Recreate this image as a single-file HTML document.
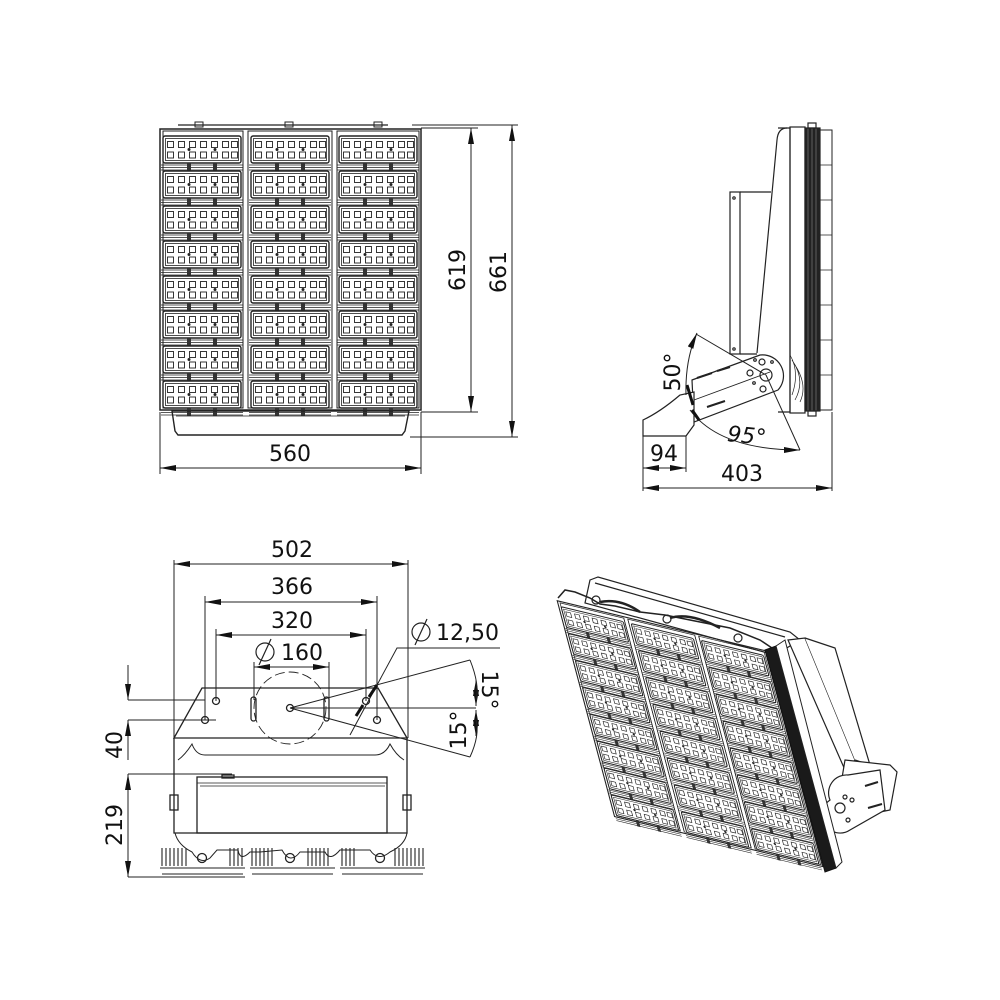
<!DOCTYPE html>
<html><head><meta charset="utf-8"><style>
html,body{margin:0;padding:0;background:#fff}
svg{display:block}
text{font-family:"DejaVu Sans","Liberation Sans",sans-serif;fill:#111;font-size:22px}
</style></head><body>
<svg width="1000" height="1000" viewBox="0 0 1000 1000" xmlns="http://www.w3.org/2000/svg">
<defs>
<marker id="ar" viewBox="0 0 16 6" refX="16" refY="3" markerWidth="16" markerHeight="6" orient="auto-start-reverse" markerUnits="userSpaceOnUse"><path d="M0,0L16,3L0,6z" fill="#111"/></marker>
<g id="mod" fill="none" stroke="#222">
<rect x="0" y="0" width="78" height="27" rx="2" stroke-width="1.4"/>
<rect x="2.5" y="2.5" width="73" height="22" stroke-width="0.8"/>
<g stroke-width="0.9">
<rect x="4.5" y="5.5" width="6" height="6"/><rect x="15.5" y="5.5" width="6" height="6"/><rect x="26.5" y="5.5" width="6" height="6"/><rect x="37.5" y="5.5" width="6" height="6"/><rect x="48.5" y="5.5" width="6" height="6"/><rect x="59.5" y="5.5" width="6" height="6"/><rect x="68.5" y="5.5" width="6" height="6"/>
<rect x="4.5" y="16" width="6" height="6"/><rect x="15.5" y="16" width="6" height="6"/><rect x="26.5" y="16" width="6" height="6"/><rect x="37.5" y="16" width="6" height="6"/><rect x="48.5" y="16" width="6" height="6"/><rect x="59.5" y="16" width="6" height="6"/><rect x="68.5" y="16" width="6" height="6"/>
</g>
<circle cx="26" cy="13.5" r="1" fill="#222"/><circle cx="52" cy="13.5" r="1" fill="#222"/>
<path d="M-2,29H80M-2,31.5H80M-2,34H80" stroke-width="0.8"/>
<rect x="24" y="27" width="4" height="8" fill="#333" stroke="none"/><rect x="50" y="27" width="4" height="8" fill="#333" stroke="none"/>
</g>
<g id="col">
<use href="#mod" y="0"/><use href="#mod" y="35"/><use href="#mod" y="70"/><use href="#mod" y="105"/>
<use href="#mod" y="140"/><use href="#mod" y="175"/><use href="#mod" y="210"/><use href="#mod" y="245"/>
</g>
<g id="front">
<rect x="160" y="129" width="261" height="281" fill="none" stroke="#222" stroke-width="1.5"/>
<rect x="163" y="131" width="80" height="277" fill="none" stroke="#222" stroke-width="1"/>
<rect x="248" y="131" width="84" height="277" fill="none" stroke="#222" stroke-width="1"/>
<rect x="337" y="131" width="82" height="277" fill="none" stroke="#222" stroke-width="1"/>
<path d="M243,131V408M248,131V408M332,131V408M337,131V408" stroke="#222" stroke-width="1"/>
<use href="#col" x="163" y="136"/><use href="#col" x="251" y="136"/><use href="#col" x="339" y="136"/>
</g>
</defs>

<!-- FRONT VIEW -->
<use href="#front"/>
<path d="M178,125h210" stroke="#222" stroke-width="1.2"/>
<rect x="195" y="122" width="8" height="5" fill="none" stroke="#222"/><rect x="285" y="122" width="8" height="5" fill="none" stroke="#222"/><rect x="374" y="122" width="8" height="5" fill="none" stroke="#222"/>
<path d="M172,411H409L405,431L402,435H178L175,431Z" fill="none" stroke="#222" stroke-width="1.4"/>
<path d="M176,416H405" stroke="#222" stroke-width="0.8"/>
<g stroke="#222" stroke-width="1" fill="none">
<path d="M160,412V474M421,412V474"/>
<path d="M160,468H421" marker-start="url(#ar)" marker-end="url(#ar)"/>
<path d="M421,128H478M421,412H478M412,125H518M410,437H518"/>
<path d="M471,128V412" marker-start="url(#ar)" marker-end="url(#ar)"/>
<path d="M512,125V437" marker-start="url(#ar)" marker-end="url(#ar)"/>
</g>
<text x="290" y="461" text-anchor="middle">560</text>
<text transform="translate(465,270) rotate(-90)" text-anchor="middle">619</text>
<text transform="translate(506,272) rotate(-90)" text-anchor="middle">661</text>

<!-- SIDE VIEW -->
<g stroke="#222" fill="none" stroke-width="1.2">
<path d="M778,128H790V412H778"/>
<rect x="790" y="127" width="15" height="286"/>
<rect x="805" y="128" width="15" height="283" fill="#222"/>
<path d="M808,128V411M812,128V411M816,128V411" stroke="#777" stroke-width="0.7"/>
<path d="M820,130H832V410H820" stroke-width="1"/>
<path d="M820,165H832M820,200H832M820,235H832M820,270H832M820,305H832M820,340H832M820,375H832" stroke-width="0.7"/>
<rect x="808" y="123" width="8" height="5"/><rect x="808" y="411" width="8" height="5"/>
<path d="M787,128Q778,128 777,140L757,353"/>
<rect x="730" y="192" width="10" height="162"/>
<path d="M740,192H771M740,354H757"/>
<circle cx="734" cy="198" r="1.2"/><circle cx="734" cy="349" r="1.2"/>
<path d="M790,355Q800,372 792,395M792,360Q806,380 795,400M795,365Q808,385 800,402" stroke-width="0.7"/>
<path d="M692,380L760,355A21,21 0 0 1 778,390L694,422Z" fill="#fff"/>
<path d="M694,400L770,372" stroke-width="0.9"/>
<circle cx="766" cy="375" r="6"/><circle cx="762" cy="362" r="3"/><circle cx="750" cy="373" r="3"/><circle cx="763" cy="389" r="3"/>
<circle cx="755" cy="360" r="1.3"/><circle cx="772" cy="362" r="1.3"/><circle cx="754" cy="383" r="1.3"/>
<path d="M697,378L712,373M717,371L730,367M707,407L725,401" stroke-width="2"/>
<path d="M643,420L643,436H686L694,425V392L680,395Q660,412 643,420Z" fill="#fff"/>
<path d="M643,436V491M832,412V491" stroke-width="1"/>
<path d="M686,436V472" stroke-width="1"/>
<path d="M643,468H686" stroke-width="1" marker-start="url(#ar)" marker-end="url(#ar)"/>
<path d="M643,488H832" stroke-width="1" marker-start="url(#ar)" marker-end="url(#ar)"/>
<path d="M766,375L696,334M766,375L800,450" stroke-width="1"/>
<path d="M686,395Q685,360 697,333" stroke-width="1" marker-end="url(#ar)"/>
<path d="M690,410Q720,450 800,450" stroke-width="1" marker-end="url(#ar)"/>
<path d="M687,385L693,405" stroke="#111" stroke-width="3"/>
<path d="M692,410L699,420" stroke="#111" stroke-width="3"/>
</g>
<text transform="translate(680,372) rotate(-90)" text-anchor="middle">50°</text>
<text x="746" y="443" text-anchor="middle" font-size="25" font-style="italic" transform="rotate(6 746 443)">95°</text>
<text x="664" y="461" text-anchor="middle">94</text>
<text x="742" y="481" text-anchor="middle">403</text>

<!-- BOTTOM-LEFT VIEW -->
<g stroke="#222" fill="none" stroke-width="1.3">
<path d="M202,688H378L407,738H174Z"/>
<path d="M174,738V833H407V738"/>
<path d="M178,760Q185,755 192,744Q196,755 205,755H375Q385,755 390,744Q396,755 404,760" stroke-width="1"/>
<rect x="197" y="777" width="190" height="56"/>
<path d="M197,783H387M200,786H385" stroke-width="0.8"/>
<rect x="222" y="775" width="12" height="3"/>
<rect x="170" y="795" width="8" height="15"/><rect x="403" y="795" width="8" height="15"/>
<circle cx="290" cy="708" r="36" stroke-dasharray="10,4" stroke-width="0.9"/>
<rect x="251" y="697" width="5" height="24" rx="2.5"/><rect x="324" y="697" width="5" height="24" rx="2.5"/>
<circle cx="290" cy="708" r="3.5"/><circle cx="216" cy="701" r="3.5"/><circle cx="205" cy="720" r="3.5"/><circle cx="366" cy="701" r="3.5"/><circle cx="377" cy="720" r="3.5"/>
<path d="M175,833Q178,845 192,852Q200,865 210,858L217,850H238Q240,862 250,852H260L282,850Q290,865 300,852H325Q330,862 340,850H370Q378,862 390,852Q405,845 407,833" stroke-width="1"/>
<circle cx="202" cy="858" r="4.5"/><circle cx="290" cy="858" r="4.5"/><circle cx="380" cy="858" r="4.5"/>
<path d="M160,868H245M250,868H335M340,868H425M162,874H243M252,874H333M342,874H423" stroke-width="1"/>
<path d="M162,848V866M166,848V866M170,848V866M174,848V866M178,848V866M182,848V866M186,848V866M230,848V866M234,848V866M238,848V866M242,848V866M252,848V866M256,848V866M260,848V866M264,848V866M268,848V866M272,848V866M308,848V866M312,848V866M316,848V866M320,848V866M324,848V866M328,848V866M342,848V866M346,848V866M350,848V866M354,848V866M395,848V866M399,848V866M403,848V866M407,848V866M411,848V866M415,848V866M419,848V866M423,848V866" stroke-width="1.1"/>
</g>
<g stroke="#222" fill="none" stroke-width="1">
<path d="M174,738V560M408,738V560"/>
<path d="M174,564H408" marker-start="url(#ar)" marker-end="url(#ar)"/>
<path d="M205,720V596M377,720V596"/>
<path d="M205,602H377" marker-start="url(#ar)" marker-end="url(#ar)"/>
<path d="M216,701V629M366,701V629"/>
<path d="M216,635H366" marker-start="url(#ar)" marker-end="url(#ar)"/>
<path d="M254,700V662M329,700V662"/>
<path d="M254,667H329" marker-start="url(#ar)" marker-end="url(#ar)"/>
<path d="M290,708L470,660M290,708L470,757M290,708H476"/>
<path d="M500,648H397L350,735"/>
<path d="M128,665V700" marker-end="url(#ar)"/>
<path d="M128,760V720" marker-end="url(#ar)"/>
<path d="M128,700H205M128,720H216"/>
<path d="M128,774H232M128,877H245"/>
<path d="M128,774V877" marker-start="url(#ar)" marker-end="url(#ar)"/>
<path d="M476,680V706" marker-start="url(#ar)" marker-end="url(#ar)"/>
<path d="M476,710V736" marker-start="url(#ar)" marker-end="url(#ar)"/>
<path d="M470,660Q480,685 476,700M476,720Q480,735 470,757"/>
</g>
<path d="M377,685L369,697" stroke="#111" stroke-width="3"/>
<path d="M363,705L356,716" stroke="#111" stroke-width="3"/>
<text x="292" y="557" text-anchor="middle">502</text>
<text x="292" y="594" text-anchor="middle">366</text>
<text x="292" y="628" text-anchor="middle">320</text>
<text x="302" y="660" text-anchor="middle">160</text>
<circle cx="265" cy="652" r="9" fill="none" stroke="#222" stroke-width="1.2"/><path d="M259,665L271,639" stroke="#222" stroke-width="1.2"/>
<text x="436" y="640">12,50</text>
<circle cx="421" cy="632" r="9" fill="none" stroke="#222" stroke-width="1.2"/><path d="M415,645L427,619" stroke="#222" stroke-width="1.2"/>
<text transform="translate(482,690) rotate(90)" text-anchor="middle">15°</text>
<text transform="translate(466,730) rotate(-90)" text-anchor="middle">15°</text>
<text transform="translate(122,745) rotate(-90)" text-anchor="middle">40</text>
<text transform="translate(122,825) rotate(-90)" text-anchor="middle">219</text>

<!-- ISOMETRIC -->
<g stroke="#222" fill="none" stroke-width="1.2">
<path d="M590,580L598,577L790,632L800,640L775,655L585,603Z" fill="#fff"/>
<path d="M595,583L785,637"/>
<path d="M558,598L565,590L575,592L590,598L600,604L615,606L640,612L665,615L700,622L730,628L760,640L772,648" stroke-width="1.5"/>
<path d="M600,602Q620,598 640,612M670,618Q690,612 720,628" stroke-width="2.5"/>
<circle cx="596" cy="600" r="4"/><circle cx="667" cy="619" r="4"/><circle cx="738" cy="638" r="4"/>
<path d="M788,640L805,638L855,760L845,770Z" fill="#fff"/>
<path d="M805,638L835,648L870,765L855,760" fill="#fff"/>
<path d="M845,760L890,765L897,772L890,810L880,812L835,820Z" fill="#fff"/>
<path d="M830,800A18,18 0 0 1 848,775L880,770L885,810L850,830A18,18 0 0 1 830,800Z" fill="#fff"/>
<circle cx="840" cy="808" r="5"/><circle cx="845" cy="797" r="2"/><circle cx="848" cy="820" r="2"/><circle cx="852" cy="800" r="2"/>
<path d="M865,786L878,782M868,808L882,804" stroke-width="2"/>
</g>
<use href="#front" transform="matrix(0.797,0.1916,0.204,0.768,403.4,471)"/>
<path d="M765,650L776,646L836,868L825,872Z" fill="#1a1a1a" stroke="#111"/>
<path d="M776,646L785,640L842,862L836,868Z" fill="#fff" stroke="#222"/>
</svg>
</body></html>
